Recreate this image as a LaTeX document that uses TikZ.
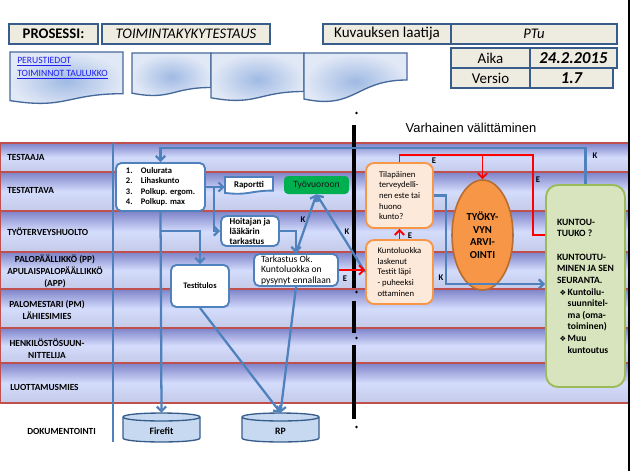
\documentclass[tikz,border=0pt]{standalone}
\usepackage{fontspec}
\setmainfont{Carlito}
\newfontfamily\arialf{Liberation Sans}
\newfontfamily\dejavuf{DejaVu Sans}
\usetikzlibrary{arrows.meta,shapes.geometric,calc}
\newcommand\myfs[2]{\fontsize{#1}{#2}\selectfont}
\newcommand\kbul{\makebox[8pt][l]{\hspace{2pt}{\dejavuf\myfs{5.5}{8.7}❖}}}
\newcommand\kind{\hspace{8pt}}
\definecolor{lanetop}{RGB}{125,130,200}
\definecolor{lanemid}{RGB}{212,220,252}
\definecolor{lanebot}{RGB}{196,202,232}
\definecolor{laneln}{RGB}{192,80,77}
\definecolor{docin}{RGB}{160,186,228}
\definecolor{docout}{RGB}{226,233,246}
\definecolor{docln}{RGB}{70,105,155}
\definecolor{hdrfill}{RGB}{238,236,225}
\definecolor{hdrln}{RGB}{56,93,138}
\definecolor{blueln}{RGB}{79,129,189}
\definecolor{orfill}{RGB}{253,233,217}
\definecolor{orln}{RGB}{247,150,70}
\definecolor{ellfill}{RGB}{247,150,70}
\definecolor{ellln}{RGB}{182,109,50}
\definecolor{grfill}{RGB}{215,228,189}
\definecolor{grln}{RGB}{155,187,89}
\definecolor{tyogreen}{RGB}{0,176,80}
\definecolor{cylfill}{RGB}{198,217,241}
\definecolor{cylln}{RGB}{56,93,138}
\definecolor{linkc}{RGB}{30,30,240}
% document shape: l r t yr yl ymax
\newcommand\docshape[7]{%
  \path[#7] (#1,#3) -- (#2,#3) -- (#2,#4) .. controls ({(#1+#2)/2},#4) and ({(#1+#2)/2},#6) .. (#1,#5) -- cycle;}
% cylinder: a b t bo
\newcommand\cylshape[4]{%
  \path[fill=cylfill, draw=cylln, line width=1pt] (#1,{#3+4}) -- (#1,{#4-4}) .. controls (#1,{#4+1.3}) and (#2,{#4+1.3}) .. (#2,{#4-4}) -- (#2,{#3+4}) .. controls (#2,{#3-1.3}) and (#1,{#3-1.3}) .. (#1,{#3+4}) -- cycle;
  \draw[cylln, line width=1pt] (#1,{#3+4}) .. controls (#1,{#3+9.3}) and (#2,{#3+9.3}) .. (#2,{#3+4});}
\begin{document}
\begin{tikzpicture}[x=0.75pt,y=-0.75pt,
  hdr/.style={draw=hdrln, line width=1.5pt, fill=hdrfill, inner sep=0pt, text=black},
  bbox/.style={draw=blueln, line width=1.4pt, fill=white, rounded corners=4pt, inner sep=0pt, align=left},
  obox/.style={draw=orln, line width=1.4pt, fill=orfill, rounded corners=6pt, inner sep=0pt, align=left, font=\myfs{6.5}{7.9}},
  lanest/.style={top color=lanetop, bottom color=lanebot, middle color=lanemid},
  lab/.style={font=\bfseries\myfs{7}{9}, inner sep=0pt, align=center, text=black},
  cl/.style={font=\bfseries\myfs{6.5}{7}, inner sep=0pt, text=black},
  bl/.style={draw=blueln, line width=1.7pt},
  rd/.style={draw=red, line width=1.4pt},
  arw/.style={-{Straight Barb[length=3.5pt,width=7pt]}},
  docst/.style={draw=docln, line width=1pt, inner color=docin, outer color=docout},
  cylnode/.style={inner sep=0pt, minimum width=57.75pt, minimum height=21.75pt, font=\bfseries\myfs{7.3}{8}, text height=9.9pt, text depth=0pt},
]
\useasboundingbox (0,0) rectangle (630,471);
\fill[white] (0,0) rectangle (630,471);

% ---------- lanes ----------
\foreach \ya/\yb in {143/172,172/211,211/252,252/289,289/328,328/363,363/403}{
  \shade[lanest] (0,\ya) rectangle (628,\yb);
}
\foreach \yy in {143,172,211,252,289,328,363,403}{
  \draw[laneln, line width=0.8pt] (0,\yy) -- (628,\yy);
}
\draw[laneln, line width=0.8pt] (0.5,143) -- (0.5,403);
\draw[blueln, line width=0.8pt] (113,143) -- (113,442);

% ---------- header ----------
\node[hdr, minimum width=66.75pt, minimum height=15pt, font=\bfseries\myfs{11}{12}] (pros) at (53.5,34) {PROSESSI:};
\node[hdr, minimum width=126pt, minimum height=15pt, font=\itshape\myfs{11}{12}] (toim) at (186,34) {TOIMINTAKYKYTESTAUS};
\node[hdr, minimum width=96pt, minimum height=15pt, font=\myfs{11.3}{12}] (kuv) at (387,34) {Kuvauksen laatija};
\node[hdr, minimum width=124.5pt, minimum height=15pt, font=\itshape\myfs{11}{12}] (ptu) at (534,34) {PTu};
\node[hdr, minimum width=59.25pt, minimum height=15pt, font=\myfs{11.2}{12}] (aika) at (490.5,58) {Aika};
\node[hdr, minimum width=65.25pt, minimum height=15pt, font=\bfseries\itshape\myfs{12.5}{13}] (date) at (573.5,58) {24.2.2015};
\node[hdr, minimum width=59.25pt, minimum height=15pt, font=\myfs{11.2}{12}] (vers) at (490.5,78) {Versio};
\node[hdr, minimum width=62.25pt, minimum height=15pt, font=\bfseries\itshape\myfs{12.5}{13}] (ver) at (571.5,78) {1.7};

\docshape{132}{211}{53}{87.5}{93.2}{100.6}{docst}
\docshape{211}{304}{53}{91.5}{97.8}{106.2}{docst}
\docshape{304}{407}{53}{80}{99}{110}{docst}
\docshape{10}{123}{52}{93.7}{100.6}{109.6}{docst}
\node[anchor=west, inner sep=0pt, text=linkc, font=\myfs{7.2}{8}] (link1) at (17,62) {\underline{PERUSTIEDOT}};
\node[anchor=west, inner sep=0pt, text=linkc, font=\myfs{7.2}{8}] (link2) at (17,75) {\underline{TOIMINNOT TAULUKKO}};

\node[font=\arialf\myfs{9.7}{11}, inner sep=0pt] (varh) at (471,128) {Varhainen välittäminen};

% ---------- black dash-dot divider ----------
\fill[black] (356.5,113) circle[radius=1pt];
\fill[black] (352,125) rectangle (356,288);
\fill[black] (356.5,292) circle[radius=1pt];
\fill[black] (352,301) rectangle (356,333);
\fill[black] (356.5,338) circle[radius=1pt];
\fill[black] (352,345) rectangle (356,419);
\fill[black] (356.5,427) circle[radius=1pt];

% ---------- lane labels ----------
\node[lab, anchor=west] (l1) at (7,157) {TESTAAJA};
\node[lab, anchor=west] (l2) at (7,190) {TESTATTAVA};
\node[lab, anchor=west] (l3) at (7,232) {TYÖTERVEYSHUOLTO};
\node[lab] (l4) at (55,271) {PALOPÄÄLLIKKÖ (PP)\\APULAISPALOPÄÄLLIKKÖ\\(APP)};
\node[lab] (l5) at (47,310) {PALOMESTARI (PM)\\LÄHIESIMIES};
\node[lab] (l6) at (47,349) {HENKILÖSTÖSUUN-\\NITTELIJA};
\node[lab, anchor=west] (l7) at (10,387) {LUOTTAMUSMIES};
\node[lab, anchor=west] (l8) at (27,431) {DOKUMENTOINTI};

% ---------- process nodes ----------
\node[bbox, minimum width=66.75pt, minimum height=36pt, font=\bfseries\myfs{6.4}{7.7}] (list) at (160.5,187)
  {\begin{tabular}{@{}l@{\hspace{6.3pt}}l@{}}1.&Oulurata\\2.&Lihaskunto\\3.&Polkup. ergom.\\4.&Polkup. max\end{tabular}};

\docshape{225}{273}{177}{190.6}{192.9}{195.8}{draw=blueln, line width=1.4pt, fill=white}
\node[inner sep=0pt, minimum width=36pt, minimum height=10.5pt, font=\bfseries\myfs{6.6}{7}] (raportti) at (249,185.5) {Raportti};

\node[fill=tyogreen, rounded corners=3pt, minimum width=48.75pt, minimum height=13.5pt, inner sep=0pt, font=\myfs{7.2}{8}, text=black!90] (tyo) at (316.5,185) {Työvuoroon};

\node[bbox, minimum width=43.5pt, minimum height=22.5pt, font=\bfseries\myfs{6.8}{7.5}] (hoit) at (250,231) {Hoitajan ja\\lääkärin\\tarkastus};

\node[bbox, minimum width=63pt, minimum height=24pt, font=\myfs{7.2}{7.9}] (tark) at (296,270) {Tarkastus Ok.\\Kuntoluokka on\\pysynyt ennallaan};

\node[bbox, minimum width=43.5pt, minimum height=31.5pt, font=\bfseries\myfs{6.3}{7}, align=center] (test) at (200,286) {Testitulos};

\node[obox, minimum width=50.25pt, minimum height=48.75pt] (tila) at (399.5,195.5) {Tilapäinen\\terveydelli-\\nen este tai\\huono\\kunto?};
\node[obox, minimum width=50.25pt, minimum height=48pt] (kuntol) at (399.5,272) {Kuntoluokka\\laskenut\\Testit läpi\\- puheeksi\\ottaminen};

\node[ellipse, draw=ellln, fill=ellfill, line width=1.2pt, minimum width=45.75pt, minimum height=82.5pt, inner sep=0pt, align=center, font=\bfseries\myfs{8}{9.4}] (ell) at (482.5,235) {TYÖKY-\\VYN\\ARVI-\\OINTI};

\node[draw=grln, fill=grfill, line width=1.4pt, rounded corners=9pt, minimum width=59.25pt, minimum height=151.5pt, inner sep=0pt, align=left, font=\bfseries\myfs{7.2}{8.7}] (kunt) at (585.5,286)
  {KUNTOU-\\TUUKO ?\\[9pt]KUNTOUTU-\\MINEN JA SEN\\SEURANTA.\\\kbul Kuntoilu-\\\kind suunnitel-\\\kind ma (oma-\\\kind toiminen)\\\kbul Muu\\\kind kuntoutus};

\cylshape{123}{200}{413}{442}
\cylshape{242}{319}{413}{442}
\node[cylnode] (firefit) at (161.5,427.5) {Firefit};
\node[cylnode] (rp) at (280.5,427.5) {RP};

% ---------- connectors ----------
\coordinate (ktop) at (0,148);
\draw[bl,arw] (kunt.north) |- (list.north |- ktop) -- (list.north);
\draw[bl,arw] (list.east) -- (list.east -| raportti.west);
\draw[bl,arw] ([xshift=6pt]list.east) |- (hoit.west);
\draw[bl,arw] (list.south) -- (firefit.north);
\draw[bl,arw] (list.south |- hoit.west) -| (test.north);
\draw[bl,arw] (hoit.east) -| (tark.north);
\draw[bl,arw] (tark.north) -- (tyo.south);
\draw[bl,arw] (kuntol.west) -- (tyo.south);
\draw[bl,arw] (tila.east) -- ++(12,0) |- ([yshift=1.5pt]kunt.west);
\draw[bl,arw] (test.south) -- (rp.north);
\draw[bl,arw] (tark.south) -- (rp.north);

\draw[rd,arw] (tark.east) -- (tark.east -| kuntol.west);
\draw[rd,arw] (kuntol.north) -- (tila.south);
\coordinate (rtop) at (533,155);
\coordinate (rbend) at (533,235);
\draw[rd] (tila.north) |- (rtop) -- (rbend) -- (rbend -| kunt.west);
\draw[rd,arw] (ell.north |- rtop) -- (ell.north);

% ---------- connector labels ----------
\node[cl] (k1) at (595,156) {K};
\node[cl] (k2) at (303,220) {K};
\node[cl] (k3) at (347,232) {K};
\node[cl] (k4) at (441,278) {K};
\node[cl] (e1) at (345,279) {E};
\node[cl] (e2) at (410,236) {E};
\node[cl] (e3) at (434,161) {E};
\node[cl] (e4) at (538,180) {E};

% right edge
\fill[black] (628,0) rectangle (630,471);
\end{tikzpicture}
\end{document}
